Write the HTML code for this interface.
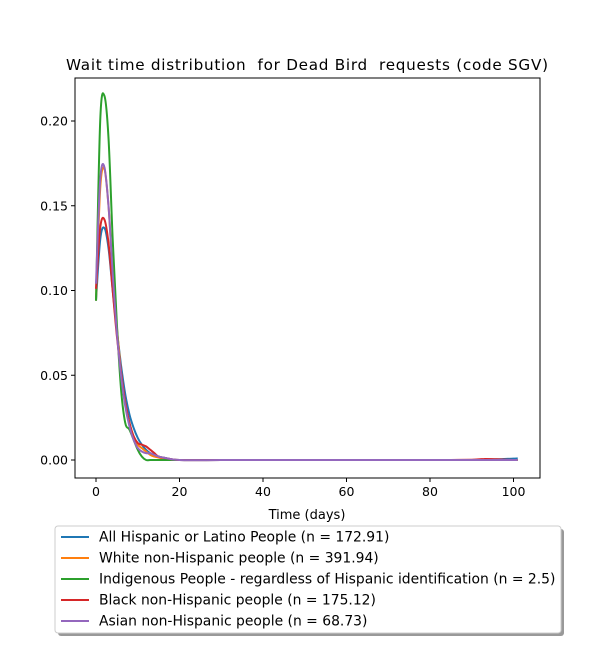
<!DOCTYPE html>
<html><head><meta charset="utf-8"><style>
body{margin:0;background:#fff;font-family:"Liberation Sans","DejaVu Sans",sans-serif;}
svg text{font-family:"DejaVu Sans","Liberation Sans",sans-serif;white-space:pre;}
</style></head><body>
<svg id="c" width="600" height="650" xmlns="http://www.w3.org/2000/svg" xml:space="preserve">
<rect width="600" height="650" fill="#fff"/>
<text x="66" y="70" font-size="15.2" textLength="482" lengthAdjust="spacing">Wait time distribution  for Dead Bird  requests (code SGV)</text>
<g id="plot"></g>
<rect x="75" y="78" width="465" height="400" fill="none" stroke="#000" stroke-width="1"/>
<g id="xt"></g><g id="yt"></g>
<text x="307" y="519" font-size="13" text-anchor="middle">Time (days)</text>
<g id="legend">
<rect x="58" y="529" width="506" height="107" rx="3" fill="#999"/>
<rect x="55" y="526" width="506" height="107" rx="3" fill="#fff" stroke="#ccc"/>
</g>
</svg>
<script>
const days=[0,1,2,3,4,5,6,7,8,9,10,11,12,13,14,15,17,20,30,40,50,60,70,80,85,90,93,96,100,101];
const seriesNames=["All Hispanic or Latino People (n = 172.91)","White non-Hispanic people (n = 391.94)","Indigenous People - regardless of Hispanic identification (n = 2.5)","Black non-Hispanic people (n = 175.12)","Asian non-Hispanic people (n = 68.73)"];
const colors=["#1f77b4","#ff7f0e","#2ca02c","#d62728","#9467bd"];
const blue=[0.094,0.13,0.137,0.125,0.10,0.076,0.056,0.039,0.027,0.019,0.013,0.009,0.006,0.004,0.003,0.002,0.001,0,0,0,0,0,0,0,0,0,0.0003,0.0005,0.0008,0.001];
const orange=[0.094,0.16,0.172,0.15,0.11,0.078,0.052,0.034,0.022,0.014,0.009,0.007,0.005,0.003,0.002,0.0015,0.0005,0,0,0,0,0,0,0,0,0,0,0,0,0];
const green=[0.094,0.20,0.215,0.19,0.13,0.08,0.042,0.022,0.018,0.012,0.006,0.002,0,0,0,0,0,0,0,0,0,0,0,0,0,0,0,0,0,0];
const red=[0.101,0.137,0.142,0.128,0.10,0.073,0.052,0.034,0.022,0.014,0.01,0.009,0.008,0.006,0.004,0.002,0.001,0,0,0,0,0,0,0,0,0.0002,0.0006,0.0004,0,0];
const purple=[0.104,0.165,0.173,0.15,0.11,0.075,0.05,0.032,0.02,0.012,0.007,0.005,0.004,0.004,0.003,0.002,0.001,0,0,0,0,0,0,0,0,0,0,0,0,0];
const xTicks=[0,20,40,60,80,100];
const yTicks=[0,0.05,0.10,0.15,0.20];
const yTickLabels=["0.00","0.05","0.10","0.15","0.20"];
const NS="http://www.w3.org/2000/svg";
const X=v=>96+v*4.175;
const Y=v=>460-v*1695;
function mk(t,a,p){const e=document.createElementNS(NS,t);for(const k in a)e.setAttribute(k,a[k]);p.appendChild(e);return e;}
function smooth(pts){
 let d='M'+pts[0][0].toFixed(1)+','+pts[0][1].toFixed(1);
 for(let i=0;i<pts.length-1;i++){
  const p0=pts[Math.max(0,i-1)],p1=pts[i],p2=pts[i+1],p3=pts[Math.min(pts.length-1,i+2)];
  const c1=[p1[0]+(p2[0]-p0[0])/6,p1[1]+(p2[1]-p0[1])/6];
  const c2=[p2[0]-(p3[0]-p1[0])/6,p2[1]-(p3[1]-p1[1])/6];
  d+=' C'+c1.map(n=>n.toFixed(1)).join(',')+' '+c2.map(n=>n.toFixed(1)).join(',')+' '+p2[0].toFixed(1)+','+p2[1].toFixed(1);
 }
 return d;
}
const plot=document.getElementById('plot');
[blue,orange,green,red,purple].forEach((s,i)=>{
 const pts=s.map((v,j)=>[X(days[j]),Y(v)]);
 const pl=mk('path',{d:smooth(pts),fill:'none',stroke:colors[i],'stroke-width':2,'stroke-linejoin':'round'},plot);
 
 
});
const xt=document.getElementById('xt');
xTicks.forEach(v=>{
 const l=mk('line',{x1:X(v),x2:X(v),y1:478,y2:482,stroke:'#000'},xt);
 
 
 const t=mk('text',{x:X(v),y:496,'font-size':12.5,'text-anchor':'middle'},xt);t.textContent=v;
 
 
});
const yt=document.getElementById('yt');
yTicks.forEach((v,i)=>{
 const l=mk('line',{x1:71,x2:75,y1:Y(v),y2:Y(v),stroke:'#000'},yt);
 
 
 const t=mk('text',{x:68,y:Y(v)+4.5,'font-size':12.5,'text-anchor':'end'},yt);t.textContent=yTickLabels[i];
 
 
});
const lg=document.getElementById('legend');
seriesNames.forEach((n,i)=>{
 const y=537+i*21;
 const l=mk('line',{x1:61,x2:89,y1:y,y2:y,stroke:colors[i],'stroke-width':2},lg);
 
 
 const t=mk('text',{x:99,y:y+4.5,'font-size':13.9},lg);t.textContent=n;
 
 
});
</script>
</body></html>
